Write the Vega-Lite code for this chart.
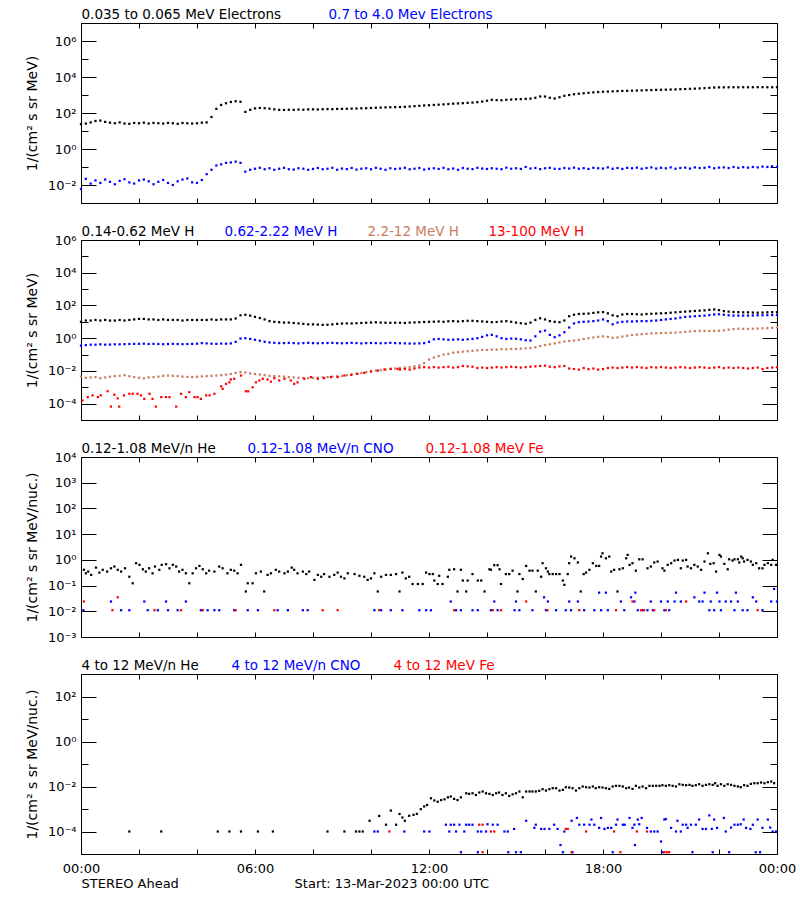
{
"$schema": "https://vega.github.io/schema/vega-lite/v6.json",
"background": "white",
"padding": {"left": 24, "top": 7, "right": 5, "bottom": 5},
"config": {
 "font": "DejaVu Sans",
 "view": {"stroke": "#000000", "strokeWidth": 1},
 "axis": {"labelFontSize": 13, "titleFontSize": 14, "titleFontWeight": "normal", "labelColor": "#000000", "titleColor": "#000000", "tickColor": "#000000", "grid": false, "domain": false, "labelFlush": false, "labelOverlap": false},
 "legend": {"labelFontSize": 13.5, "labelLimit": 0}
},
"datasets": {
"p1a": [{"m":0,"v":24},{"m":10,"v":26},{"m":20,"v":30},{"m":30,"v":36},{"m":40,"v":38},{"m":50,"v":32},{"m":60,"v":29},{"m":70,"v":27},{"m":80,"v":30},{"m":90,"v":26},{"m":100,"v":25},{"m":110,"v":28},
{"m":120,"v":27},{"m":130,"v":29},{"m":140,"v":26},{"m":150,"v":28},{"m":160,"v":27},{"m":170,"v":26},{"m":180,"v":28},{"m":190,"v":27},{"m":200,"v":25},{"m":210,"v":28},{"m":220,"v":27},{"m":230,"v":26},
{"m":240,"v":27},{"m":250,"v":29},{"m":260,"v":30},{"m":270,"v":60},{"m":280,"v":170},{"m":290,"v":280},{"m":300,"v":350},{"m":310,"v":410},{"m":320,"v":450},{"m":330,"v":420},{"m":340,"v":115},{"m":350,"v":150},
{"m":360,"v":180},{"m":370,"v":190},{"m":380,"v":185},{"m":390,"v":175},{"m":400,"v":160},{"m":410,"v":150},{"m":420,"v":148},{"m":430,"v":152},{"m":440,"v":150},{"m":450,"v":155},{"m":460,"v":152},{"m":470,"v":158},
{"m":480,"v":160},{"m":490,"v":158},{"m":500,"v":162},{"m":510,"v":165},{"m":520,"v":163},{"m":530,"v":168},{"m":540,"v":170},{"m":550,"v":172},{"m":560,"v":175},{"m":570,"v":178},{"m":580,"v":182},{"m":590,"v":185},
{"m":600,"v":190},{"m":610,"v":195},{"m":620,"v":200},{"m":630,"v":205},{"m":640,"v":208},{"m":650,"v":212},{"m":660,"v":215},{"m":670,"v":220},{"m":680,"v":230},{"m":690,"v":240},{"m":700,"v":250},{"m":710,"v":262},
{"m":720,"v":270},{"m":730,"v":280},{"m":740,"v":290},{"m":750,"v":300},{"m":760,"v":315},{"m":770,"v":330},{"m":780,"v":340},{"m":790,"v":350},{"m":800,"v":365},{"m":810,"v":380},{"m":820,"v":400},{"m":830,"v":430},
{"m":840,"v":480},{"m":850,"v":540},{"m":860,"v":520},{"m":870,"v":510},{"m":880,"v":540},{"m":890,"v":560},{"m":900,"v":580},{"m":910,"v":590},{"m":920,"v":610},{"m":930,"v":630},{"m":940,"v":700},{"m":950,"v":830},
{"m":960,"v":820},{"m":970,"v":700},{"m":980,"v":640},{"m":990,"v":750},{"m":1000,"v":900},{"m":1010,"v":1000},{"m":1020,"v":1100},{"m":1030,"v":1180},{"m":1040,"v":1250},{"m":1050,"v":1320},{"m":1060,"v":1400},{"m":1070,"v":1460},
{"m":1080,"v":1520},{"m":1090,"v":1560},{"m":1100,"v":1600},{"m":1110,"v":1640},{"m":1120,"v":1680},{"m":1130,"v":1700},{"m":1140,"v":1740},{"m":1150,"v":1770},{"m":1160,"v":1800},{"m":1170,"v":1850},{"m":1180,"v":1880},{"m":1190,"v":1920},
{"m":1200,"v":1950},{"m":1210,"v":1980},{"m":1220,"v":2010},{"m":1230,"v":2050},{"m":1240,"v":2100},{"m":1250,"v":2150},{"m":1260,"v":2200},{"m":1270,"v":2260},{"m":1280,"v":2330},{"m":1290,"v":2400},{"m":1300,"v":2500},{"m":1310,"v":2600},
{"m":1320,"v":2650},{"m":1330,"v":2660},{"m":1340,"v":2680},{"m":1350,"v":2690},{"m":1360,"v":2680},{"m":1370,"v":2700},{"m":1380,"v":2690},{"m":1390,"v":2700},{"m":1400,"v":2710},{"m":1410,"v":2700},{"m":1420,"v":2690},{"m":1430,"v":2700},{"m":1440,"v":2700}],
"p1b": [{"m":0,"v":0.006},{"m":10,"v":0.022},{"m":20,"v":0.012},{"m":30,"v":0.018},{"m":40,"v":0.013},{"m":50,"v":0.02},{"m":60,"v":0.015},{"m":70,"v":0.011},{"m":80,"v":0.017},{"m":90,"v":0.021},{"m":100,"v":0.014},{"m":110,"v":0.012},
{"m":120,"v":0.018},{"m":130,"v":0.02},{"m":140,"v":0.016},{"m":150,"v":0.011},{"m":160,"v":0.015},{"m":170,"v":0.019},{"m":180,"v":0.013},{"m":190,"v":0.01},{"m":200,"v":0.016},{"m":210,"v":0.02},{"m":220,"v":0.023},{"m":230,"v":0.014},
{"m":240,"v":0.013},{"m":250,"v":0.019},{"m":260,"v":0.04},{"m":270,"v":0.07},{"m":280,"v":0.12},{"m":290,"v":0.14},{"m":300,"v":0.17},{"m":310,"v":0.18},{"m":320,"v":0.2},{"m":330,"v":0.17},{"m":340,"v":0.055},{"m":350,"v":0.07},
{"m":360,"v":0.08},{"m":370,"v":0.09},{"m":380,"v":0.075},{"m":390,"v":0.085},{"m":400,"v":0.07},{"m":410,"v":0.08},{"m":420,"v":0.09},{"m":430,"v":0.075},{"m":440,"v":0.072},{"m":450,"v":0.085},{"m":460,"v":0.08},{"m":470,"v":0.07},
{"m":480,"v":0.078},{"m":490,"v":0.088},{"m":500,"v":0.075},{"m":510,"v":0.08},{"m":520,"v":0.09},{"m":530,"v":0.07},{"m":540,"v":0.082},{"m":550,"v":0.076},{"m":560,"v":0.088},{"m":570,"v":0.072},{"m":580,"v":0.08},{"m":590,"v":0.085},
{"m":600,"v":0.075},{"m":610,"v":0.09},{"m":620,"v":0.08},{"m":630,"v":0.07},{"m":640,"v":0.085},{"m":650,"v":0.078},{"m":660,"v":0.082},{"m":670,"v":0.09},{"m":680,"v":0.075},{"m":690,"v":0.08},{"m":700,"v":0.088},{"m":710,"v":0.072},
{"m":720,"v":0.08},{"m":730,"v":0.085},{"m":740,"v":0.078},{"m":750,"v":0.09},{"m":760,"v":0.075},{"m":770,"v":0.082},{"m":780,"v":0.07},{"m":790,"v":0.088},{"m":800,"v":0.08},{"m":810,"v":0.076},{"m":820,"v":0.09},{"m":830,"v":0.082},
{"m":840,"v":0.078},{"m":850,"v":0.085},{"m":860,"v":0.08},{"m":870,"v":0.075},{"m":880,"v":0.092},{"m":890,"v":0.08},{"m":900,"v":0.085},{"m":910,"v":0.078},{"m":920,"v":0.1},{"m":930,"v":0.082},{"m":940,"v":0.088},{"m":950,"v":0.076},
{"m":960,"v":0.085},{"m":970,"v":0.09},{"m":980,"v":0.08},{"m":990,"v":0.078},{"m":1000,"v":0.088},{"m":1010,"v":0.082},{"m":1020,"v":0.092},{"m":1030,"v":0.08},{"m":1040,"v":0.086},{"m":1050,"v":0.078},{"m":1060,"v":0.09},{"m":1070,"v":0.085},
{"m":1080,"v":0.082},{"m":1090,"v":0.095},{"m":1100,"v":0.08},{"m":1110,"v":0.088},{"m":1120,"v":0.078},{"m":1130,"v":0.09},{"m":1140,"v":0.085},{"m":1150,"v":0.092},{"m":1160,"v":0.08},{"m":1170,"v":0.088},{"m":1180,"v":0.095},{"m":1190,"v":0.082},
{"m":1200,"v":0.09},{"m":1210,"v":0.085},{"m":1220,"v":0.095},{"m":1230,"v":0.08},{"m":1240,"v":0.088},{"m":1250,"v":0.092},{"m":1260,"v":0.082},{"m":1270,"v":0.095},{"m":1280,"v":0.088},{"m":1290,"v":0.09},{"m":1300,"v":0.1},{"m":1310,"v":0.085},
{"m":1320,"v":0.092},{"m":1330,"v":0.095},{"m":1340,"v":0.088},{"m":1350,"v":0.1},{"m":1360,"v":0.09},{"m":1370,"v":0.098},{"m":1380,"v":0.092},{"m":1390,"v":0.1},{"m":1400,"v":0.095},{"m":1410,"v":0.105},{"m":1420,"v":0.1},{"m":1430,"v":0.11},{"m":1440,"v":0.1}],
"p2a": [{"m":0,"v":10},{"m":10,"v":12},{"m":20,"v":12},{"m":30,"v":13},{"m":40,"v":12},{"m":50,"v":13},{"m":60,"v":12},{"m":70,"v":12},{"m":80,"v":13},{"m":90,"v":12},{"m":100,"v":13},{"m":110,"v":14},
{"m":120,"v":15},{"m":130,"v":15},{"m":140,"v":14},{"m":150,"v":14},{"m":160,"v":13},{"m":170,"v":14},{"m":180,"v":13},{"m":190,"v":13},{"m":200,"v":13},{"m":210,"v":12},{"m":220,"v":13},{"m":230,"v":13},
{"m":240,"v":13},{"m":250,"v":13},{"m":260,"v":13},{"m":270,"v":14},{"m":280,"v":13},{"m":290,"v":14},{"m":300,"v":14},{"m":310,"v":14},{"m":320,"v":16},{"m":330,"v":25},{"m":340,"v":27},{"m":350,"v":24},
{"m":360,"v":20},{"m":370,"v":17},{"m":380,"v":14},{"m":390,"v":11},{"m":400,"v":10},{"m":410,"v":9.5},{"m":420,"v":9},{"m":430,"v":9},{"m":440,"v":8.5},{"m":450,"v":8},{"m":460,"v":7.5},{"m":470,"v":7},
{"m":480,"v":7},{"m":490,"v":6.8},{"m":500,"v":6.5},{"m":510,"v":6.6},{"m":520,"v":7},{"m":530,"v":7.5},{"m":540,"v":7.8},{"m":550,"v":8},{"m":560,"v":8},{"m":570,"v":8.2},{"m":580,"v":8.5},{"m":590,"v":8.8},
{"m":600,"v":9},{"m":610,"v":9.3},{"m":620,"v":9},{"m":630,"v":8.8},{"m":640,"v":8.7},{"m":650,"v":8.8},{"m":660,"v":8.7},{"m":670,"v":8.5},{"m":680,"v":9},{"m":690,"v":9.2},{"m":700,"v":9.5},{"m":710,"v":9.8},
{"m":720,"v":10},{"m":730,"v":10.2},{"m":740,"v":10.5},{"m":750,"v":10},{"m":760,"v":10.8},{"m":770,"v":11},{"m":780,"v":10.5},{"m":790,"v":11},{"m":800,"v":11.5},{"m":810,"v":11.5},{"m":820,"v":11},{"m":830,"v":10.5},
{"m":840,"v":10},{"m":850,"v":9.5},{"m":860,"v":9.8},{"m":870,"v":10.5},{"m":880,"v":11},{"m":890,"v":10},{"m":900,"v":9},{"m":910,"v":8.2},{"m":920,"v":7.6},{"m":930,"v":9},{"m":940,"v":13},{"m":950,"v":16.5},
{"m":960,"v":14},{"m":970,"v":11},{"m":980,"v":10},{"m":990,"v":9.5},{"m":1000,"v":12},{"m":1010,"v":22},{"m":1020,"v":27},{"m":1030,"v":30},{"m":1040,"v":31},{"m":1050,"v":32},{"m":1060,"v":35},{"m":1070,"v":38},
{"m":1080,"v":39},{"m":1090,"v":33},{"m":1100,"v":25},{"m":1110,"v":22},{"m":1120,"v":28},{"m":1130,"v":30},{"m":1140,"v":30},{"m":1150,"v":29},{"m":1160,"v":28},{"m":1170,"v":30},{"m":1180,"v":31},{"m":1190,"v":32},
{"m":1200,"v":33},{"m":1210,"v":34},{"m":1220,"v":36},{"m":1230,"v":38},{"m":1240,"v":40},{"m":1250,"v":42},{"m":1260,"v":44},{"m":1270,"v":46},{"m":1280,"v":48},{"m":1290,"v":50},{"m":1300,"v":54},{"m":1310,"v":57},
{"m":1320,"v":52},{"m":1330,"v":45},{"m":1340,"v":42},{"m":1350,"v":40},{"m":1360,"v":39},{"m":1370,"v":38},{"m":1380,"v":38},{"m":1390,"v":37},{"m":1400,"v":36},{"m":1410,"v":37},{"m":1420,"v":38},{"m":1430,"v":39},{"m":1440,"v":39}],
"p2b": [{"m":0,"v":0.35},{"m":10,"v":0.38},{"m":20,"v":0.4},{"m":30,"v":0.4},{"m":40,"v":0.42},{"m":50,"v":0.4},{"m":60,"v":0.41},{"m":70,"v":0.42},{"m":80,"v":0.42},{"m":90,"v":0.43},{"m":100,"v":0.44},{"m":110,"v":0.45},
{"m":120,"v":0.45},{"m":130,"v":0.46},{"m":140,"v":0.44},{"m":150,"v":0.45},{"m":160,"v":0.44},{"m":170,"v":0.43},{"m":180,"v":0.44},{"m":190,"v":0.45},{"m":200,"v":0.44},{"m":210,"v":0.43},{"m":220,"v":0.44},{"m":230,"v":0.45},
{"m":240,"v":0.46},{"m":250,"v":0.5},{"m":260,"v":0.48},{"m":270,"v":0.46},{"m":280,"v":0.45},{"m":290,"v":0.47},{"m":300,"v":0.46},{"m":310,"v":0.48},{"m":320,"v":0.6},{"m":330,"v":0.95},{"m":340,"v":1.0},{"m":350,"v":0.9},
{"m":360,"v":0.8},{"m":370,"v":0.7},{"m":380,"v":0.6},{"m":390,"v":0.55},{"m":400,"v":0.52},{"m":410,"v":0.5},{"m":420,"v":0.5},{"m":430,"v":0.52},{"m":440,"v":0.5},{"m":450,"v":0.48},{"m":460,"v":0.5},{"m":470,"v":0.52},
{"m":480,"v":0.5},{"m":490,"v":0.49},{"m":500,"v":0.5},{"m":510,"v":0.51},{"m":520,"v":0.52},{"m":530,"v":0.5},{"m":540,"v":0.49},{"m":550,"v":0.5},{"m":560,"v":0.52},{"m":570,"v":0.5},{"m":580,"v":0.48},{"m":590,"v":0.5},
{"m":600,"v":0.51},{"m":610,"v":0.5},{"m":620,"v":0.49},{"m":630,"v":0.5},{"m":640,"v":0.52},{"m":650,"v":0.5},{"m":660,"v":0.49},{"m":670,"v":0.48},{"m":680,"v":0.47},{"m":690,"v":0.47},{"m":700,"v":0.48},{"m":710,"v":0.5},
{"m":720,"v":0.6},{"m":730,"v":0.85},{"m":740,"v":0.9},{"m":750,"v":0.85},{"m":760,"v":0.8},{"m":770,"v":0.82},{"m":780,"v":0.85},{"m":790,"v":0.8},{"m":800,"v":0.85},{"m":810,"v":0.9},{"m":820,"v":1.0},{"m":830,"v":1.2},
{"m":840,"v":1.5},{"m":850,"v":1.6},{"m":860,"v":1.3},{"m":870,"v":1.0},{"m":880,"v":0.9},{"m":890,"v":0.95},{"m":900,"v":0.92},{"m":910,"v":0.85},{"m":920,"v":0.75},{"m":930,"v":0.72},{"m":940,"v":1.3},{"m":950,"v":2.5},
{"m":960,"v":2.9},{"m":970,"v":1.6},{"m":980,"v":1.15},{"m":990,"v":1.5},{"m":1000,"v":2.3},{"m":1010,"v":4.5},{"m":1020,"v":8},{"m":1030,"v":9.5},{"m":1040,"v":10},{"m":1050,"v":10.5},{"m":1060,"v":11},{"m":1070,"v":12},
{"m":1080,"v":14},{"m":1090,"v":11},{"m":1100,"v":7},{"m":1110,"v":9},{"m":1120,"v":10},{"m":1130,"v":10.5},{"m":1140,"v":10.5},{"m":1150,"v":10.8},{"m":1160,"v":11},{"m":1170,"v":11},{"m":1180,"v":11.5},{"m":1190,"v":12},
{"m":1200,"v":13},{"m":1210,"v":14},{"m":1220,"v":15},{"m":1230,"v":16},{"m":1240,"v":18},{"m":1250,"v":20},{"m":1260,"v":21},{"m":1270,"v":22},{"m":1280,"v":23},{"m":1290,"v":24},{"m":1300,"v":26},{"m":1310,"v":28},
{"m":1320,"v":29},{"m":1330,"v":27},{"m":1340,"v":25},{"m":1350,"v":24},{"m":1360,"v":24},{"m":1370,"v":24},{"m":1380,"v":24},{"m":1390,"v":24.5},{"m":1400,"v":25},{"m":1410,"v":25},{"m":1420,"v":25.5},{"m":1430,"v":26},{"m":1440,"v":26}],
"p2c": [{"m":0,"v":0.0045},{"m":10,"v":0.0038},{"m":20,"v":0.004},{"m":30,"v":0.0042},{"m":40,"v":0.0036},{"m":50,"v":0.004},{"m":60,"v":0.0044},{"m":70,"v":0.0048},{"m":80,"v":0.005},{"m":90,"v":0.0055},{"m":100,"v":0.0047},{"m":110,"v":0.0042},
{"m":120,"v":0.0038},{"m":130,"v":0.0035},{"m":140,"v":0.004},{"m":150,"v":0.0042},{"m":160,"v":0.0045},{"m":170,"v":0.005},{"m":180,"v":0.0052},{"m":190,"v":0.005},{"m":200,"v":0.0048},{"m":210,"v":0.0045},{"m":220,"v":0.0043},{"m":230,"v":0.0042},
{"m":240,"v":0.0044},{"m":250,"v":0.0046},{"m":260,"v":0.0048},{"m":270,"v":0.005},{"m":280,"v":0.0052},{"m":290,"v":0.0055},{"m":300,"v":0.006},{"m":310,"v":0.0065},{"m":320,"v":0.0075},{"m":330,"v":0.0085},{"m":340,"v":0.008},{"m":350,"v":0.007},
{"m":360,"v":0.0065},{"m":370,"v":0.006},{"m":380,"v":0.0055},{"m":390,"v":0.005},{"m":400,"v":0.0048},{"m":410,"v":0.0047},{"m":420,"v":0.0045},{"m":430,"v":0.0042},{"m":440,"v":0.004},{"m":450,"v":0.0038},{"m":460,"v":0.0037},{"m":470,"v":0.0036},
{"m":480,"v":0.0037},{"m":490,"v":0.0038},{"m":500,"v":0.004},{"m":510,"v":0.0042},{"m":520,"v":0.0045},{"m":530,"v":0.0048},{"m":540,"v":0.005},{"m":550,"v":0.0055},{"m":560,"v":0.006},{"m":570,"v":0.0068},{"m":580,"v":0.0075},{"m":590,"v":0.0085},
{"m":600,"v":0.0095},{"m":610,"v":0.0105},{"m":620,"v":0.011},{"m":630,"v":0.012},{"m":640,"v":0.013},{"m":650,"v":0.014},{"m":660,"v":0.015},{"m":670,"v":0.016},{"m":680,"v":0.017},{"m":690,"v":0.019},{"m":700,"v":0.022},{"m":710,"v":0.03},
{"m":720,"v":0.05},{"m":730,"v":0.065},{"m":740,"v":0.08},{"m":750,"v":0.1},{"m":760,"v":0.11},{"m":770,"v":0.13},{"m":780,"v":0.14},{"m":790,"v":0.15},{"m":800,"v":0.16},{"m":810,"v":0.17},{"m":820,"v":0.18},{"m":830,"v":0.19},
{"m":840,"v":0.19},{"m":850,"v":0.2},{"m":860,"v":0.2},{"m":870,"v":0.21},{"m":880,"v":0.21},{"m":890,"v":0.22},{"m":900,"v":0.22},{"m":910,"v":0.23},{"m":920,"v":0.24},{"m":930,"v":0.25},{"m":940,"v":0.28},{"m":950,"v":0.33},
{"m":960,"v":0.38},{"m":970,"v":0.42},{"m":980,"v":0.48},{"m":990,"v":0.55},{"m":1000,"v":0.62},{"m":1010,"v":0.68},{"m":1020,"v":0.72},{"m":1030,"v":0.78},{"m":1040,"v":0.9},{"m":1050,"v":1.0},{"m":1060,"v":1.1},{"m":1070,"v":1.2},
{"m":1080,"v":1.3},{"m":1090,"v":1.2},{"m":1100,"v":1.05},{"m":1110,"v":1.1},{"m":1120,"v":1.25},{"m":1130,"v":1.4},{"m":1140,"v":1.55},{"m":1150,"v":1.65},{"m":1160,"v":1.75},{"m":1170,"v":1.85},{"m":1180,"v":1.95},{"m":1190,"v":2.0},
{"m":1200,"v":2.05},{"m":1210,"v":2.1},{"m":1220,"v":2.15},{"m":1230,"v":2.2},{"m":1240,"v":2.3},{"m":1250,"v":2.45},{"m":1260,"v":2.6},{"m":1270,"v":2.7},{"m":1280,"v":2.8},{"m":1290,"v":2.8},{"m":1300,"v":2.75},{"m":1310,"v":2.8},
{"m":1320,"v":2.85},{"m":1330,"v":3.0},{"m":1340,"v":3.3},{"m":1350,"v":3.6},{"m":1360,"v":3.8},{"m":1370,"v":3.7},{"m":1380,"v":3.7},{"m":1390,"v":3.8},{"m":1400,"v":3.9},{"m":1410,"v":4.0},{"m":1420,"v":4.1},{"m":1430,"v":4.3},{"m":1440,"v":4.5}],
"p2d": [{"m":3,"v":0.000155},{"m":14,"v":0.00025},{"m":24,"v":0.00032},{"m":35,"v":0.00025},{"m":41,"v":0.00032},{"m":55,"v":0.00057},{"m":62,"v":0.000066},{"m":69,"v":0.00035},{"m":76,"v":0.00021},{"m":79,"v":0.000066},{"m":89,"v":0.00032},{"m":100,"v":0.0004},{"m":107,"v":0.0004},{"m":117,"v":0.0004},{"m":124,"v":0.00032},{"m":131,"v":0.000195},{"m":142,"v":0.0004},{"m":148,"v":0.000195},{"m":155,"v":0.000066},{"m":166,"v":0.00025},{"m":176,"v":0.00025},{"m":183,"v":0.00025},{"m":197,"v":0.000066},{"m":207,"v":0.0004},{"m":217,"v":0.00025},{"m":224,"v":0.0005},{"m":235,"v":0.00025},{"m":241,"v":0.00025},{"m":248,"v":0.000195},{"m":259,"v":0.00032},{"m":266,"v":0.00032},{"m":276,"v":0.0004},{"m":290,"v":0.00115},{"m":293,"v":0.0008},{"m":300,"v":0.0016},{"m":307,"v":0.002},{"m":310,"v":0.003},{"m":317,"v":0.0033},{"m":331,"v":0.0052},{"m":341,"v":0.00057},{"m":346,"v":0.00057},{"m":355,"v":0.001},{"m":362,"v":0.002},{"m":369,"v":0.0026},{"m":376,"v":0.0033},{"m":386,"v":0.003},{"m":393,"v":0.0022},{"m":400,"v":0.0036},{"m":410,"v":0.0026},{"m":421,"v":0.0033},{"m":434,"v":0.0026},{"m":441,"v":0.0016},{"m":448,"v":0.002},{"m":462,"v":0.0033},{"m":476,"v":0.0042},{"m":490,"v":0.0033},{"m":503,"v":0.0036},{"m":517,"v":0.0042},{"m":531,"v":0.0042},{"m":545,"v":0.0052},{"m":559,"v":0.0058},{"m":572,"v":0.0066},{"m":586,"v":0.0076},{"m":600,"v":0.0092},{"m":614,"v":0.0105},{"m":628,"v":0.0123},{"m":641,"v":0.0134},{"m":655,"v":0.0134},
{"m":660,"v":0.012},{"m":670,"v":0.013},{"m":680,"v":0.012},{"m":690,"v":0.014},{"m":700,"v":0.016},{"m":710,"v":0.017},{"m":720,"v":0.016},{"m":730,"v":0.017},{"m":740,"v":0.016},{"m":750,"v":0.017},{"m":760,"v":0.018},{"m":770,"v":0.016},{"m":780,"v":0.017},{"m":790,"v":0.02},{"m":800,"v":0.019},{"m":810,"v":0.018},{"m":820,"v":0.015},{"m":830,"v":0.016},{"m":840,"v":0.015},{"m":850,"v":0.016},{"m":860,"v":0.017},{"m":870,"v":0.016},{"m":880,"v":0.017},{"m":890,"v":0.018},{"m":900,"v":0.017},{"m":910,"v":0.016},{"m":920,"v":0.017},{"m":930,"v":0.018},{"m":940,"v":0.019},{"m":950,"v":0.02},{"m":960,"v":0.021},{"m":970,"v":0.018},{"m":980,"v":0.017},{"m":990,"v":0.019},{"m":1000,"v":0.02},{"m":1010,"v":0.014},{"m":1020,"v":0.013},{"m":1030,"v":0.012},{"m":1040,"v":0.015},{"m":1050,"v":0.013},{"m":1060,"v":0.014},{"m":1070,"v":0.012},{"m":1080,"v":0.013},{"m":1090,"v":0.015},{"m":1100,"v":0.016},{"m":1110,"v":0.015},{"m":1120,"v":0.016},{"m":1130,"v":0.017},{"m":1140,"v":0.016},{"m":1150,"v":0.017},{"m":1160,"v":0.016},{"m":1170,"v":0.015},{"m":1180,"v":0.017},{"m":1190,"v":0.016},{"m":1200,"v":0.017},{"m":1210,"v":0.016},{"m":1220,"v":0.015},{"m":1230,"v":0.016},{"m":1240,"v":0.017},{"m":1250,"v":0.016},{"m":1260,"v":0.015},{"m":1270,"v":0.016},{"m":1280,"v":0.017},{"m":1290,"v":0.016},{"m":1300,"v":0.015},{"m":1310,"v":0.016},{"m":1320,"v":0.017},{"m":1330,"v":0.015},{"m":1340,"v":0.016},{"m":1350,"v":0.015},{"m":1360,"v":0.016},{"m":1370,"v":0.015},{"m":1380,"v":0.014},{"m":1390,"v":0.015},{"m":1400,"v":0.016},{"m":1410,"v":0.013},{"m":1420,"v":0.015},{"m":1430,"v":0.016},{"m":1440,"v":0.017}],
"p3a": [{"m":6,"v":0.41},{"m":10,"v":0.3},{"m":15,"v":0.35},{"m":21,"v":0.26},{"m":31,"v":0.5},{"m":38,"v":0.32},{"m":45,"v":0.41},{"m":54,"v":0.35},{"m":62,"v":0.47},{"m":69,"v":0.55},{"m":76,"v":0.41},{"m":83,"v":0.35},{"m":91,"v":0.47},{"m":100,"v":0.22},{"m":107,"v":0.123},{"m":114,"v":0.74},{"m":121,"v":0.64},{"m":128,"v":0.43},{"m":134,"v":0.35},{"m":141,"v":0.47},{"m":148,"v":0.3},{"m":153,"v":0.55},{"m":162,"v":0.41},{"m":167,"v":0.64},{"m":176,"v":0.68},{"m":183,"v":0.47},{"m":190,"v":0.64},{"m":197,"v":0.55},{"m":203,"v":0.35},{"m":210,"v":0.41},{"m":217,"v":0.3},{"m":224,"v":0.123},{"m":231,"v":0.3},{"m":238,"v":0.47},{"m":245,"v":0.58},{"m":252,"v":0.43},{"m":259,"v":0.3},{"m":265,"v":0.38},{"m":276,"v":0.35},{"m":286,"v":0.55},{"m":293,"v":0.47},{"m":303,"v":0.3},{"m":310,"v":0.41},{"m":317,"v":0.38},{"m":324,"v":0.3},{"m":331,"v":0.64},{"m":341,"v":0.059},{"m":345,"v":0.123},{"m":355,"v":0.123},{"m":362,"v":0.3},{"m":372,"v":0.35},{"m":379,"v":0.059},{"m":386,"v":0.26},{"m":393,"v":0.3},{"m":403,"v":0.41},{"m":410,"v":0.35},{"m":421,"v":0.3},{"m":428,"v":0.35},{"m":436,"v":0.5},{"m":441,"v":0.41},{"m":448,"v":0.3},{"m":459,"v":0.35},{"m":466,"v":0.28},{"m":472,"v":0.35},{"m":483,"v":0.166},{"m":490,"v":0.26},{"m":497,"v":0.22},{"m":503,"v":0.28},{"m":514,"v":0.22},{"m":524,"v":0.26},{"m":531,"v":0.32},{"m":538,"v":0.22},{"m":545,"v":0.19},{"m":552,"v":0.3},{"m":566,"v":0.28},{"m":576,"v":0.24},{"m":586,"v":0.22},{"m":593,"v":0.166},{"m":600,"v":0.19},{"m":607,"v":0.3},{"m":614,"v":0.059},{"m":621,"v":0.22},{"m":631,"v":0.26},{"m":641,"v":0.26},{"m":652,"v":0.28},{"m":659,"v":0.059},
{"m":665,"v":0.32},{"m":672,"v":0.19},{"m":679,"v":0.22},{"m":686,"v":0.115},{"m":697,"v":0.115},{"m":707,"v":0.115},{"m":714,"v":0.32},{"m":721,"v":0.28},{"m":728,"v":0.28},{"m":731,"v":0.157},{"m":738,"v":0.115},{"m":741,"v":0.24},{"m":748,"v":0.115},{"m":759,"v":0.22},{"m":762,"v":0.41},{"m":772,"v":0.43},{"m":779,"v":0.059},{"m":786,"v":0.41},{"m":790,"v":0.157},{"m":797,"v":0.059},{"m":800,"v":0.157},{"m":810,"v":0.28},{"m":821,"v":0.157},{"m":828,"v":0.157},{"m":835,"v":0.059},{"m":845,"v":0.43},{"m":848,"v":0.41},{"m":855,"v":0.62},{"m":862,"v":0.62},{"m":866,"v":0.43},{"m":869,"v":0.115},{"m":879,"v":0.28},{"m":886,"v":0.28},{"m":893,"v":0.38},{"m":903,"v":0.059},{"m":907,"v":0.28},{"m":914,"v":0.18},{"m":921,"v":0.58},{"m":928,"v":0.38},{"m":934,"v":0.38},{"m":941,"v":0.059},{"m":945,"v":0.38},{"m":952,"v":0.22},{"m":955,"v":0.74},{"m":962,"v":0.47},{"m":966,"v":0.35},{"m":969,"v":0.28},{"m":976,"v":0.28},{"m":983,"v":0.28},{"m":990,"v":0.28},{"m":997,"v":0.157},{"m":1000,"v":0.107},{"m":1007,"v":0.28},{"m":1010,"v":0.74},{"m":1014,"v":1.34},{"m":1021,"v":1.15},{"m":1028,"v":0.79},{"m":1034,"v":0.059},{"m":1040,"v":0.28},{"m":1045,"v":0.32},{"m":1052,"v":0.41},{"m":1059,"v":0.74},{"m":1066,"v":0.58},{"m":1072,"v":0.58},{"m":1076,"v":1.34},{"m":1079,"v":1.8},{"m":1086,"v":1.15},{"m":1093,"v":1.34},{"m":1097,"v":0.35},{"m":1103,"v":0.41},{"m":1110,"v":0.059},{"m":1114,"v":0.43},{"m":1121,"v":0.47},{"m":1128,"v":1.15},{"m":1131,"v":1.56},{"m":1135,"v":0.64},{"m":1141,"v":0.74},{"m":1148,"v":0.38},{"m":1155,"v":1.05},{"m":1162,"v":1.05},{"m":1172,"v":0.47},{"m":1179,"v":0.55},{"m":1186,"v":0.79},{"m":1193,"v":0.86},{"m":1203,"v":0.47},{"m":1207,"v":0.38},{"m":1214,"v":0.64},{"m":1221,"v":0.74},{"m":1228,"v":0.94},{"m":1235,"v":1.0},{"m":1241,"v":0.47},{"m":1245,"v":0.94},{"m":1252,"v":1.0},{"m":1255,"v":0.55},{"m":1262,"v":0.47},{"m":1269,"v":0.64},{"m":1276,"v":0.55},{"m":1283,"v":0.41},{"m":1290,"v":0.86},{"m":1297,"v":1.8},{"m":1302,"v":0.7},{"m":1309,"v":0.74},{"m":1314,"v":0.35},{"m":1321,"v":1.56},{"m":1324,"v":1.34},{"m":1331,"v":0.7},{"m":1338,"v":0.43},{"m":1341,"v":1.05},{"m":1348,"v":0.94},{"m":1352,"v":1.05},{"m":1359,"v":1.05},{"m":1362,"v":0.79},{"m":1366,"v":1.34},{"m":1369,"v":1.15},{"m":1372,"v":0.86},{"m":1379,"v":1.0},{"m":1386,"v":0.86},{"m":1390,"v":0.64},{"m":1397,"v":0.74},{"m":1403,"v":0.47},{"m":1410,"v":0.47},{"m":1414,"v":0.64},{"m":1421,"v":0.74},{"m":1428,"v":0.64},{"m":1431,"v":1.0},{"m":1438,"v":0.64}],
"p3b": [{"m":5,"v":0.011},{"m":83,"v":0.011},{"m":100,"v":0.011},{"m":138,"v":0.011},{"m":159,"v":0.011},{"m":180,"v":0.011},{"m":200,"v":0.011},{"m":248,"v":0.011},{"m":262,"v":0.011},{"m":276,"v":0.011},{"m":286,"v":0.011},{"m":317,"v":0.011},{"m":345,"v":0.011},{"m":366,"v":0.011},{"m":407,"v":0.011},{"m":428,"v":0.011},{"m":459,"v":0.011},{"m":469,"v":0.011},{"m":607,"v":0.011},{"m":621,"v":0.011},{"m":641,"v":0.011},{"m":665,"v":0.011},{"m":700,"v":0.011},{"m":714,"v":0.011},{"m":724,"v":0.011},{"m":776,"v":0.011},{"m":786,"v":0.011},{"m":810,"v":0.011},{"m":821,"v":0.011},{"m":848,"v":0.011},{"m":862,"v":0.011},{"m":897,"v":0.011},{"m":907,"v":0.011},{"m":934,"v":0.011},{"m":962,"v":0.011},{"m":983,"v":0.011},{"m":1003,"v":0.011},{"m":1014,"v":0.011},{"m":1041,"v":0.011},{"m":1062,"v":0.011},{"m":1076,"v":0.011},{"m":1090,"v":0.011},{"m":1124,"v":0.011},{"m":1152,"v":0.011},{"m":1162,"v":0.011},{"m":1172,"v":0.011},{"m":1183,"v":0.011},{"m":1207,"v":0.011},{"m":1217,"v":0.011},{"m":1300,"v":0.011},{"m":1310,"v":0.011},{"m":1324,"v":0.011},{"m":1352,"v":0.011},{"m":1369,"v":0.011},{"m":1379,"v":0.011},{"m":1410,"v":0.011},
{"m":62,"v":0.024},{"m":131,"v":0.024},{"m":176,"v":0.024},{"m":217,"v":0.024},{"m":765,"v":0.024},{"m":855,"v":0.024},{"m":900,"v":0.024},{"m":966,"v":0.024},{"m":1010,"v":0.024},{"m":1028,"v":0.024},{"m":1117,"v":0.024},{"m":1145,"v":0.024},{"m":1179,"v":0.024},{"m":1200,"v":0.024},{"m":1214,"v":0.024},{"m":1228,"v":0.024},{"m":1241,"v":0.024},{"m":1279,"v":0.024},{"m":1286,"v":0.024},{"m":1303,"v":0.024},{"m":1321,"v":0.024},{"m":1334,"v":0.024},{"m":1345,"v":0.024},{"m":1359,"v":0.024},{"m":1397,"v":0.024},{"m":1428,"v":0.024},{"m":1440,"v":0.024},
{"m":1072,"v":0.053},{"m":1086,"v":0.053},{"m":1147,"v":0.053},{"m":1231,"v":0.053},{"m":1290,"v":0.053},{"m":1316,"v":0.053},{"m":1355,"v":0.053},{"m":958,"v":0.035},{"m":1138,"v":0.035},{"m":1269,"v":0.035},{"m":1390,"v":0.035},{"m":1434,"v":0.074}],
"p3c": [{"m":65,"v":0.011},{"m":152,"v":0.011},{"m":207,"v":0.011},{"m":252,"v":0.011},{"m":320,"v":0.011},{"m":400,"v":0.011},{"m":500,"v":0.011},{"m":531,"v":0.011},{"m":617,"v":0.011},{"m":772,"v":0.011},{"m":852,"v":0.011},{"m":869,"v":0.011},{"m":965,"v":0.011},{"m":1031,"v":0.011},{"m":1107,"v":0.011},{"m":1159,"v":0.011},{"m":1165,"v":0.011},{"m":1186,"v":0.011},{"m":1210,"v":0.011},{"m":1400,"v":0.011},{"m":6,"v":0.024},{"m":921,"v":0.024},{"m":1141,"v":0.024},{"m":1252,"v":0.024},{"m":76,"v":0.035}],
"p4a": [{"m":100,"v":0.0001},{"m":166,"v":0.0001},{"m":283,"v":0.0001},{"m":307,"v":0.0001},{"m":331,"v":0.0001},{"m":366,"v":0.0001},{"m":397,"v":0.0001},{"m":510,"v":0.0001},{"m":545,"v":0.0001},{"m":569,"v":0.0001},{"m":576,"v":0.0001},{"m":583,"v":0.0001},{"m":597,"v":0.0003},{"m":617,"v":0.00049},{"m":631,"v":0.0002},{"m":641,"v":0.00085},{"m":652,"v":0.0002},{"m":659,"v":0.0006},
{"m":665,"v":0.00042},{"m":670,"v":0.0003},{"m":679,"v":0.0005},{"m":688,"v":0.00055},{"m":695,"v":0.00061},{"m":703,"v":0.00098},{"m":710,"v":0.0013},{"m":716,"v":0.0015},{"m":724,"v":0.003},{"m":731,"v":0.0024},{"m":738,"v":0.0021},{"m":745,"v":0.0025},{"m":752,"v":0.0027},{"m":759,"v":0.0033},{"m":765,"v":0.0036},{"m":772,"v":0.0028},{"m":779,"v":0.0025},{"m":786,"v":0.0033},{"m":797,"v":0.005},{"m":803,"v":0.0047},{"m":810,"v":0.005},{"m":817,"v":0.0042},{"m":824,"v":0.0054},{"m":831,"v":0.006},{"m":838,"v":0.005},{"m":845,"v":0.0047},{"m":852,"v":0.0042},{"m":859,"v":0.005},{"m":865,"v":0.0054},{"m":872,"v":0.0042},{"m":879,"v":0.005},{"m":886,"v":0.0038},{"m":893,"v":0.0045},{"m":900,"v":0.005},{"m":907,"v":0.006},{"m":914,"v":0.0033},{"m":921,"v":0.006},{"m":928,"v":0.006},{"m":934,"v":0.006},{"m":941,"v":0.006},{"m":948,"v":0.0064},{"m":955,"v":0.0076},{"m":962,"v":0.0066},{"m":969,"v":0.0076},{"m":976,"v":0.0084},{"m":983,"v":0.0084},{"m":990,"v":0.0066},{"m":997,"v":0.0071},{"m":1003,"v":0.0093},{"m":1010,"v":0.009},{"m":1017,"v":0.0084},{"m":1024,"v":0.0066},{"m":1031,"v":0.0084},{"m":1038,"v":0.01},{"m":1045,"v":0.0093},{"m":1052,"v":0.009},{"m":1059,"v":0.01},{"m":1065,"v":0.0084},{"m":1072,"v":0.0093},{"m":1079,"v":0.009},{"m":1086,"v":0.0084},{"m":1093,"v":0.0078},{"m":1100,"v":0.01},{"m":1107,"v":0.0107},{"m":1114,"v":0.0107},{"m":1121,"v":0.01},{"m":1128,"v":0.0084},{"m":1134,"v":0.009},{"m":1141,"v":0.0078},{"m":1148,"v":0.0107},{"m":1155,"v":0.009},{"m":1162,"v":0.01},{"m":1169,"v":0.0084},{"m":1176,"v":0.0107},{"m":1183,"v":0.0107},{"m":1190,"v":0.0107},{"m":1197,"v":0.0107},{"m":1203,"v":0.0114},{"m":1210,"v":0.0107},{"m":1217,"v":0.0114},{"m":1224,"v":0.0107},{"m":1231,"v":0.01},{"m":1238,"v":0.0126},{"m":1245,"v":0.0118},{"m":1252,"v":0.0114},{"m":1259,"v":0.0118},{"m":1265,"v":0.0107},{"m":1272,"v":0.0114},{"m":1279,"v":0.0126},{"m":1286,"v":0.0107},{"m":1293,"v":0.0118},{"m":1300,"v":0.0126},{"m":1307,"v":0.0118},{"m":1312,"v":0.014},{"m":1317,"v":0.0107},{"m":1324,"v":0.0126},{"m":1331,"v":0.0107},{"m":1338,"v":0.0126},{"m":1345,"v":0.0118},{"m":1352,"v":0.0107},{"m":1359,"v":0.01},{"m":1365,"v":0.0093},{"m":1372,"v":0.0114},{"m":1379,"v":0.0107},{"m":1386,"v":0.0131},{"m":1393,"v":0.014},{"m":1400,"v":0.014},{"m":1407,"v":0.015},{"m":1414,"v":0.014},{"m":1421,"v":0.0155},{"m":1428,"v":0.0166},{"m":1434,"v":0.014}],
"p4b": [{"m":607,"v":0.0001},{"m":614,"v":0.0001},{"m":669,"v":0.0001},{"m":710,"v":0.0001},{"m":721,"v":0.0001},{"m":755,"v":0.0002},{"m":762,"v":0.0001},{"m":765,"v":0.0002},{"m":772,"v":0.0002},{"m":776,"v":0.0001},{"m":783,"v":0.0002},{"m":793,"v":0.0001},{"m":797,"v":0.0002},{"m":803,"v":0.0002},{"m":810,"v":0.0002},{"m":821,"v":0.0001},{"m":828,"v":0.0001},{"m":838,"v":0.0001},{"m":841,"v":0.00021},{"m":852,"v":0.0002},{"m":862,"v":0.0002},{"m":876,"v":0.0001},{"m":883,"v":0.0001},{"m":896,"v":0.00013},{"m":921,"v":0.0003},{"m":938,"v":0.000145},{"m":941,"v":0.0002},{"m":952,"v":0.00013},{"m":959,"v":0.00013},{"m":969,"v":0.00013},{"m":979,"v":0.0002},{"m":986,"v":0.00013},{"m":1000,"v":0.0001},{"m":1015,"v":0.0003},{"m":1026,"v":0.0004},{"m":1031,"v":0.0002},{"m":1041,"v":0.0002},{"m":1052,"v":0.0002},{"m":1056,"v":0.00034},{"m":1062,"v":0.0002},{"m":1072,"v":0.000145},{"m":1076,"v":0.0004},{"m":1083,"v":0.00013},{"m":1090,"v":0.000145},{"m":1097,"v":0.000145},{"m":1107,"v":0.0002},{"m":1110,"v":0.00034},{"m":1121,"v":0.0002},{"m":1125,"v":0.0002},{"m":1135,"v":0.0004},{"m":1141,"v":0.000145},{"m":1145,"v":0.0002},{"m":1152,"v":0.00034},{"m":1155,"v":0.00021},{"m":1160,"v":0.0004},{"m":1171,"v":0.000145},{"m":1179,"v":0.0001},{"m":1186,"v":0.0001},{"m":1193,"v":0.0001},{"m":1207,"v":0.00034},{"m":1210,"v":0.00036},{"m":1221,"v":0.000145},{"m":1231,"v":0.0001},{"m":1234,"v":0.0003},{"m":1241,"v":0.0001},{"m":1245,"v":0.0002},{"m":1252,"v":0.0002},{"m":1255,"v":0.000145},{"m":1262,"v":0.0002},{"m":1272,"v":0.0002},{"m":1279,"v":0.00034},{"m":1286,"v":0.00013},{"m":1293,"v":0.00013},{"m":1300,"v":0.00052},{"m":1305,"v":0.00013},{"m":1310,"v":0.00034},{"m":1316,"v":0.000145},{"m":1330,"v":0.0004},{"m":1334,"v":0.0001},{"m":1345,"v":0.00015},{"m":1352,"v":0.0002},{"m":1359,"v":0.0002},{"m":1365,"v":0.00021},{"m":1371,"v":0.00034},{"m":1376,"v":0.000145},{"m":1385,"v":0.00013},{"m":1390,"v":0.0002},{"m":1400,"v":0.00034},{"m":1410,"v":0.000145},{"m":1421,"v":0.00034},{"m":1426,"v":0.00015},{"m":1431,"v":0.0001},{"m":1438,"v":0.0001},
{"m":992,"v":0.000025},{"m":1146,"v":0.000025},{"m":1200,"v":0.000036},
{"m":786,"v":0.000012},{"m":821,"v":0.000012},{"m":884,"v":0.000012},{"m":900,"v":0.000012},{"m":910,"v":0.000012},{"m":997,"v":0.000012},{"m":1017,"v":0.000012},{"m":1100,"v":0.000012},{"m":1203,"v":0.000012},{"m":1265,"v":0.000012},{"m":1307,"v":0.000012},{"m":1341,"v":0.000012},{"m":1396,"v":0.000012},{"m":1405,"v":0.000012}],
"p4c": [{"m":638,"v":0.0001},{"m":824,"v":0.0002},{"m":831,"v":0.0002},{"m":848,"v":0.0001},{"m":855,"v":0.0001},{"m":1003,"v":0.00013},{"m":1007,"v":0.00013},{"m":1045,"v":0.0001},{"m":1103,"v":0.0001},{"m":1150,"v":0.0001},{"m":1171,"v":0.0001},{"m":831,"v":0.000012},{"m":1015,"v":0.000012},{"m":1116,"v":0.000012},{"m":1207,"v":0.000012},{"m":1212,"v":0.000012},{"m":1217,"v":0.000012}]
},
"spacing": 13,
"resolve": {"scale": {"color": "independent", "x": "independent", "y": "independent"}, "legend": {"color": "independent"}},
"vconcat": [
{
 "width": 696, "height": 180,
 "layer": [
  {"data": {"name": "p1a"}, "mark": {"type": "square", "size": 5, "opacity": 1},
   "encoding": {
    "x": {"field": "m", "type": "quantitative", "scale": {"domain": [0, 1440], "nice": false, "zero": false},
          "axis": {"orient": "bottom", "values": [0,120,240,360,480,600,720,840,960,1080,1200,1320,1440], "tickSize": -5, "labels": false, "title": null}},
    "y": {"field": "v", "type": "quantitative", "scale": {"type": "log", "domain": [1e-3, 1e7], "nice": false},
          "axis": {"orient": "left", "values": [1e-3,1e-2,1e-1,1,10,100,1e3,1e4,1e5,1e6,1e7],
                   "tickSize": {"condition": {"test": "abs(round(log(datum.value)/LN10))%2==0", "value": -15}, "value": -7},
                   "labelPadding": 20,
                   "labelExpr": "abs(round(log(datum.value)/LN10))%2==0 ? '10' + ['⁻⁵','⁻⁴','⁻³','⁻²','⁻¹','⁰','¹','²','³','⁴','⁵','⁶','⁷'][round(log(datum.value)/LN10)+5] : ''",
                   "title": "1/(cm² s sr MeV)", "titlePadding": 8}},
    "color": {"datum": "0.035 to 0.065 MeV Electrons", "type": "nominal",
              "scale": {"domain": ["0.035 to 0.065 MeV Electrons", "0.7 to 4.0 Mev Electrons"], "range": ["#000000", "#0000ff"]},
              "legend": {"orient": "top", "direction": "horizontal", "title": null, "symbolSize": 0, "symbolStrokeWidth": 0, "symbolOpacity": 0, "labelOffset": -13, "columnPadding": 46, "padding": 0, "offset": 0,
                         "encode": {"labels": {"update": {"fill": {"signal": "datum.value == '0.7 to 4.0 Mev Electrons' ? '#0000ff' : '#000000'"}}}}}}
   }},
  {"data": {"name": "p1b"}, "mark": {"type": "square", "size": 5, "opacity": 1},
   "encoding": {
    "x": {"field": "m", "type": "quantitative", "axis": null},
    "y": {"field": "v", "type": "quantitative", "axis": null},
    "color": {"datum": "0.7 to 4.0 Mev Electrons", "type": "nominal"}
   }},
  {"data": {"name": "p1a"}, "mark": {"type": "square", "size": 5, "opacity": 0},
   "encoding": {
    "x": {"field": "m", "type": "quantitative", "axis": {"orient": "top", "values": [0,120,240,360,480,600,720,840,960,1080,1200,1320,1440], "tickSize": -5, "labels": false, "title": null}},
    "y": {"field": "v", "type": "quantitative", "axis": {"orient": "right", "values": [1e-3,1e-2,1e-1,1,10,100,1e3,1e4,1e5,1e6,1e7], "tickSize": {"condition": {"test": "abs(round(log(datum.value)/LN10))%2==0", "value": -15}, "value": -7}, "labels": false, "title": null}}
   }}
 ],
 "resolve": {"axis": {"x": "independent", "y": "independent"}}
},
{
 "width": 696, "height": 180,
 "layer": [
  {"data": {"name": "p2a"}, "mark": {"type": "square", "size": 5, "opacity": 1},
   "encoding": {
    "x": {"field": "m", "type": "quantitative", "scale": {"domain": [0, 1440], "nice": false, "zero": false},
          "axis": {"orient": "bottom", "values": [0,120,240,360,480,600,720,840,960,1080,1200,1320,1440], "tickSize": -5, "labels": false, "title": null}},
    "y": {"field": "v", "type": "quantitative", "scale": {"type": "log", "domain": [1e-5, 1e6], "nice": false},
          "axis": {"orient": "left", "values": [1e-5,1e-4,1e-3,1e-2,1e-1,1,10,100,1e3,1e4,1e5,1e6],
                   "tickSize": {"condition": {"test": "abs(round(log(datum.value)/LN10))%2==0", "value": -15}, "value": -7},
                   "labelPadding": 20,
                   "labelExpr": "abs(round(log(datum.value)/LN10))%2==0 ? '10' + ['⁻⁵','⁻⁴','⁻³','⁻²','⁻¹','⁰','¹','²','³','⁴','⁵','⁶','⁷'][round(log(datum.value)/LN10)+5] : ''",
                   "title": "1/(cm² s sr MeV)", "titlePadding": 8}},
    "color": {"datum": "0.14-0.62 MeV H", "type": "nominal",
              "scale": {"domain": ["0.14-0.62 MeV H", "0.62-2.22 MeV H", "2.2-12 MeV H", "13-100 MeV H"], "range": ["#000000", "#0000ff", "#c87d5f", "#ff0000"]},
              "legend": {"orient": "top", "direction": "horizontal", "title": null, "symbolSize": 0, "symbolStrokeWidth": 0, "symbolOpacity": 0, "labelOffset": -13, "columnPadding": 29, "padding": 0, "offset": 0,
                         "encode": {"labels": {"update": {"fill": {"signal": "datum.value == '0.62-2.22 MeV H' ? '#0000ff' : datum.value == '2.2-12 MeV H' ? '#c87d5f' : datum.value == '13-100 MeV H' ? '#ff0000' : '#000000'"}}}}}}
   }},
  {"data": {"name": "p2b"}, "mark": {"type": "square", "size": 5, "opacity": 1},
   "encoding": {"x": {"field": "m", "type": "quantitative", "axis": null}, "y": {"field": "v", "type": "quantitative", "axis": null}, "color": {"datum": "0.62-2.22 MeV H", "type": "nominal"}}},
  {"data": {"name": "p2c"}, "mark": {"type": "square", "size": 5, "opacity": 1},
   "encoding": {"x": {"field": "m", "type": "quantitative", "axis": null}, "y": {"field": "v", "type": "quantitative", "axis": null}, "color": {"datum": "2.2-12 MeV H", "type": "nominal"}}},
  {"data": {"name": "p2d"}, "mark": {"type": "square", "size": 5, "opacity": 1},
   "encoding": {"x": {"field": "m", "type": "quantitative", "axis": null}, "y": {"field": "v", "type": "quantitative", "axis": null}, "color": {"datum": "13-100 MeV H", "type": "nominal"}}},
  {"data": {"name": "p2a"}, "mark": {"type": "square", "size": 5, "opacity": 0},
   "encoding": {
    "x": {"field": "m", "type": "quantitative", "axis": {"orient": "top", "values": [0,120,240,360,480,600,720,840,960,1080,1200,1320,1440], "tickSize": -5, "labels": false, "title": null}},
    "y": {"field": "v", "type": "quantitative", "axis": {"orient": "right", "values": [1e-5,1e-4,1e-3,1e-2,1e-1,1,10,100,1e3,1e4,1e5,1e6], "tickSize": {"condition": {"test": "abs(round(log(datum.value)/LN10))%2==0", "value": -15}, "value": -7}, "labels": false, "title": null}}
   }}
 ],
 "resolve": {"axis": {"x": "independent", "y": "independent"}}
},
{
 "width": 696, "height": 180,
 "layer": [
  {"data": {"name": "p3a"}, "mark": {"type": "square", "size": 5, "opacity": 1},
   "encoding": {
    "x": {"field": "m", "type": "quantitative", "scale": {"domain": [0, 1440], "nice": false, "zero": false},
          "axis": {"orient": "bottom", "values": [0,120,240,360,480,600,720,840,960,1080,1200,1320,1440], "tickSize": -5, "labels": false, "title": null}},
    "y": {"field": "v", "type": "quantitative", "scale": {"type": "log", "domain": [1e-3, 1e4], "nice": false},
          "axis": {"orient": "left", "values": [1e-3,1e-2,1e-1,1,10,100,1e3,1e4],
                   "tickSize": -15,
                   "labelPadding": 20,
                   "labelExpr": "'10' + ['⁻⁵','⁻⁴','⁻³','⁻²','⁻¹','⁰','¹','²','³','⁴','⁵','⁶','⁷'][round(log(datum.value)/LN10)+5]",
                   "title": "1/(cm² s sr MeV/nuc.)", "titlePadding": 8}},
    "color": {"datum": "0.12-1.08 MeV/n He", "type": "nominal",
              "scale": {"domain": ["0.12-1.08 MeV/n He", "0.12-1.08 MeV/n CNO", "0.12-1.08 MeV Fe"], "range": ["#000000", "#0000ff", "#ff0000"]},
              "legend": {"orient": "top", "direction": "horizontal", "title": null, "symbolSize": 0, "symbolStrokeWidth": 0, "symbolOpacity": 0, "labelOffset": -13, "columnPadding": 31, "padding": 0, "offset": 0,
                         "encode": {"labels": {"update": {"fill": {"signal": "datum.value == '0.12-1.08 MeV/n CNO' ? '#0000ff' : datum.value == '0.12-1.08 MeV Fe' ? '#ff0000' : '#000000'"}}}}}}
   }},
  {"data": {"name": "p3b"}, "mark": {"type": "square", "size": 5, "opacity": 1},
   "encoding": {"x": {"field": "m", "type": "quantitative", "axis": null}, "y": {"field": "v", "type": "quantitative", "axis": null}, "color": {"datum": "0.12-1.08 MeV/n CNO", "type": "nominal"}}},
  {"data": {"name": "p3c"}, "mark": {"type": "square", "size": 5, "opacity": 1},
   "encoding": {"x": {"field": "m", "type": "quantitative", "axis": null}, "y": {"field": "v", "type": "quantitative", "axis": null}, "color": {"datum": "0.12-1.08 MeV Fe", "type": "nominal"}}},
  {"data": {"name": "p3a"}, "mark": {"type": "square", "size": 5, "opacity": 0},
   "encoding": {
    "x": {"field": "m", "type": "quantitative", "axis": {"orient": "top", "values": [0,120,240,360,480,600,720,840,960,1080,1200,1320,1440], "tickSize": -5, "labels": false, "title": null}},
    "y": {"field": "v", "type": "quantitative", "axis": {"orient": "right", "values": [1e-3,1e-2,1e-1,1,10,100,1e3,1e4], "tickSize": -15, "labels": false, "title": null}}
   }}
 ],
 "resolve": {"axis": {"x": "independent", "y": "independent"}}
},
{
 "width": 696, "height": 180,
 "layer": [
  {"data": {"name": "p4a"}, "mark": {"type": "square", "size": 5, "opacity": 1},
   "encoding": {
    "x": {"field": "m", "type": "quantitative", "scale": {"domain": [0, 1440], "nice": false, "zero": false},
          "axis": {"orient": "bottom", "values": [0,120,240,360,480,600,720,840,960,1080,1200,1320,1440], "tickSize": -5, "labelPadding": 13,
                   "labelExpr": "datum.value % 360 == 0 ? (datum.value == 1440 ? '00:00' : (datum.value < 600 ? '0' : '') + (datum.value / 60) + ':00') : ''",
                   "title": "STEREO Ahead\u00a0\u00a0\u00a0\u00a0\u00a0\u00a0\u00a0\u00a0\u00a0\u00a0\u00a0\u00a0\u00a0\u00a0\u00a0\u00a0\u00a0\u00a0\u00a0\u00a0\u00a0\u00a0\u00a0\u00a0\u00a0\u00a0\u00a0\u00a0Start: 13-Mar-2023 00:00 UTC", "titleAnchor": "start", "titlePadding": 2, "titleFontSize": 13}},
    "y": {"field": "v", "type": "quantitative", "scale": {"type": "log", "domain": [1e-5, 1e3], "nice": false},
          "axis": {"orient": "left", "values": [1e-5,1e-4,1e-3,1e-2,1e-1,1,10,100,1e3],
                   "tickSize": {"condition": {"test": "abs(round(log(datum.value)/LN10))%2==0", "value": -15}, "value": -7},
                   "labelPadding": 20,
                   "labelExpr": "abs(round(log(datum.value)/LN10))%2==0 ? '10' + ['⁻⁵','⁻⁴','⁻³','⁻²','⁻¹','⁰','¹','²','³','⁴','⁵','⁶','⁷'][round(log(datum.value)/LN10)+5] : ''",
                   "title": "1/(cm² s sr MeV/nuc.)", "titlePadding": 8}},
    "color": {"datum": "4 to 12 MeV/n He", "type": "nominal",
              "scale": {"domain": ["4 to 12 MeV/n He", "4 to 12 MeV/n CNO", "4 to 12 MeV Fe"], "range": ["#000000", "#0000ff", "#ff0000"]},
              "legend": {"orient": "top", "direction": "horizontal", "title": null, "symbolSize": 0, "symbolStrokeWidth": 0, "symbolOpacity": 0, "labelOffset": -13, "columnPadding": 32, "padding": 0, "offset": 0,
                         "encode": {"labels": {"update": {"fill": {"signal": "datum.value == '4 to 12 MeV/n CNO' ? '#0000ff' : datum.value == '4 to 12 MeV Fe' ? '#ff0000' : '#000000'"}}}}}}
   }},
  {"data": {"name": "p4b"}, "mark": {"type": "square", "size": 5, "opacity": 1},
   "encoding": {"x": {"field": "m", "type": "quantitative", "axis": null}, "y": {"field": "v", "type": "quantitative", "axis": null}, "color": {"datum": "4 to 12 MeV/n CNO", "type": "nominal"}}},
  {"data": {"name": "p4c"}, "mark": {"type": "square", "size": 5, "opacity": 1},
   "encoding": {"x": {"field": "m", "type": "quantitative", "axis": null}, "y": {"field": "v", "type": "quantitative", "axis": null}, "color": {"datum": "4 to 12 MeV Fe", "type": "nominal"}}},
  {"data": {"name": "p4a"}, "mark": {"type": "square", "size": 5, "opacity": 0},
   "encoding": {
    "x": {"field": "m", "type": "quantitative", "axis": {"orient": "top", "values": [0,120,240,360,480,600,720,840,960,1080,1200,1320,1440], "tickSize": -5, "labels": false, "title": null}},
    "y": {"field": "v", "type": "quantitative", "axis": {"orient": "right", "values": [1e-5,1e-4,1e-3,1e-2,1e-1,1,10,100,1e3], "tickSize": {"condition": {"test": "abs(round(log(datum.value)/LN10))%2==0", "value": -15}, "value": -7}, "labels": false, "title": null}}
   }}
 ],
 "resolve": {"axis": {"x": "independent", "y": "independent"}}
}
]
}
